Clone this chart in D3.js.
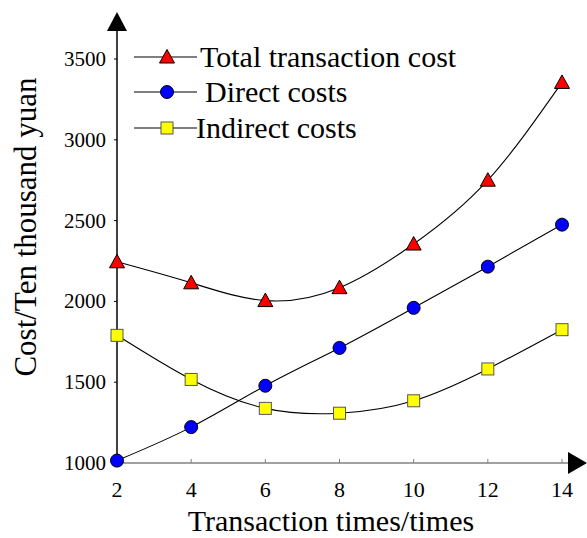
<!DOCTYPE html>
<html>
<head>
<meta charset="utf-8">
<script src="https://cdn.jsdelivr.net/npm/d3@7"></script>
<style>
  html, body { margin: 0; padding: 0; background: #fff; }
  svg text { font-family: "Liberation Serif", "Times New Roman", serif; fill: #000; }
</style>
</head>
<body>
<svg id="chart" width="587" height="538"></svg>
<script>
// Transaction count on the x axis
const times = [2, 4, 6, 8, 10, 12, 14];
// Costs in ten thousand yuan
const totalCost = [2245, 2115, 2005, 2085, 2355, 2750, 3355];
const directCost = [1015, 1222, 1478, 1712, 1960, 2215, 2475];
const indirectCost = [1790, 1517, 1338, 1308, 1385, 1582, 1825];
const xTicks = [2, 4, 6, 8, 10, 12, 14];
const yTicks = [1000, 1500, 2000, 2500, 3000, 3500];
const seriesNames = ["Total transaction cost", "Direct costs", "Indirect costs"];

const svg = d3.select("#chart");
const x = d3.scaleLinear().domain([2, 14]).range([117, 562]);
const y = d3.scaleLinear().domain([1000, 3500]).range([463, 59]);

// x axis (grey) with small inward ticks
const xAxis = svg.append("g").attr("transform", `translate(0,${y(1000)})`);
xAxis.append("line").attr("x1", x(2)).attr("x2", 572).attr("stroke", "#808080").attr("stroke-width", 1.5);
xAxis.append("path").attr("d", "M568,-11 L587,0 L568,11 Z").attr("fill", "#000");
xAxis.selectAll("line.tick").data(xTicks.slice(1)).join("line")
  .attr("class", "tick")
  .attr("x1", d => x(d)).attr("x2", d => x(d)).attr("y1", 0).attr("y2", -4)
  .attr("stroke", "#808080").attr("stroke-width", 1);
xAxis.selectAll("text").data(xTicks).join("text")
  .attr("x", d => x(d)).attr("y", 34)
  .attr("text-anchor", "middle").attr("font-size", 22).text(d => d);

// y axis (black) with arrow
const yAxis = svg.append("g").attr("transform", `translate(${x(2)},0)`);
yAxis.append("line").attr("y1", y(1000)).attr("y2", 26).attr("stroke", "#000").attr("stroke-width", 1.5);
yAxis.append("path").attr("d", "M-10,31 L0,12 L10,31 Z").attr("fill", "#000");
yAxis.selectAll("line.tick").data(yTicks.slice(1)).join("line")
  .attr("class", "tick")
  .attr("y1", d => y(d)).attr("y2", d => y(d)).attr("x1", 0).attr("x2", -3)
  .attr("stroke", "#000").attr("stroke-width", 1);
yAxis.selectAll("text").data(yTicks).join("text")
  .attr("x", -11).attr("y", d => y(d) + 7)
  .attr("text-anchor", "end").attr("font-size", 21).text(d => d);

// axis titles
svg.append("text").attr("x", 331).attr("y", 531).attr("text-anchor", "middle")
  .attr("font-size", 30).text("Transaction times/times");
svg.append("text").attr("transform", "translate(36,227) rotate(-90)").attr("text-anchor", "middle")
  .attr("font-size", 31).text("Cost/Ten thousand yuan");

const line = d3.line().x(d => x(d[0])).y(d => y(d[1])).curve(d3.curveNatural);
const series = [
  { name: seriesNames[0], values: totalCost, shape: "tri", fill: "#ff0000" },
  { name: seriesNames[1], values: directCost, shape: "circle", fill: "#0000ff" },
  { name: seriesNames[2], values: indirectCost, shape: "square", fill: "#ffff00" }
];

function marker(g, shape, fill) {
  if (shape === "tri") {
    g.append("path").attr("d", "M0,-7.5 L7.5,6 L-7.5,6 Z");
  } else if (shape === "circle") {
    g.append("circle").attr("r", 6.5);
  } else {
    g.append("rect").attr("x", -6).attr("y", -6).attr("width", 12).attr("height", 12);
  }
  g.selectAll("*").attr("fill", fill).attr("stroke", shape === "square" ? "#555" : "#000").attr("stroke-width", 1);
}

series.forEach(s => {
  const pts = times.map((t, i) => [t, s.values[i]]);
  svg.append("path").datum(pts).attr("d", line)
    .attr("fill", "none").attr("stroke", "#000").attr("stroke-width", 1.1);
  pts.forEach(p => {
    const g = svg.append("g").attr("transform", `translate(${x(p[0])},${y(p[1])})`);
    marker(g, s.shape, s.fill);
  });
});

// legend
const legendRows = [
  { y: 57, textX: 200 },
  { y: 92, textX: 205 },
  { y: 128, textX: 196 }
];
series.forEach((s, i) => {
  const r = legendRows[i];
  svg.append("line").attr("x1", 134).attr("x2", 197).attr("y1", r.y).attr("y2", r.y)
    .attr("stroke", "#000").attr("stroke-width", 1.1);
  const g = svg.append("g").attr("transform", `translate(167,${r.y})`);
  marker(g, s.shape, s.fill);
  svg.append("text").attr("x", r.textX).attr("y", r.y + 10).attr("font-size", 30).text(s.name);
});
</script>
</body>
</html>
